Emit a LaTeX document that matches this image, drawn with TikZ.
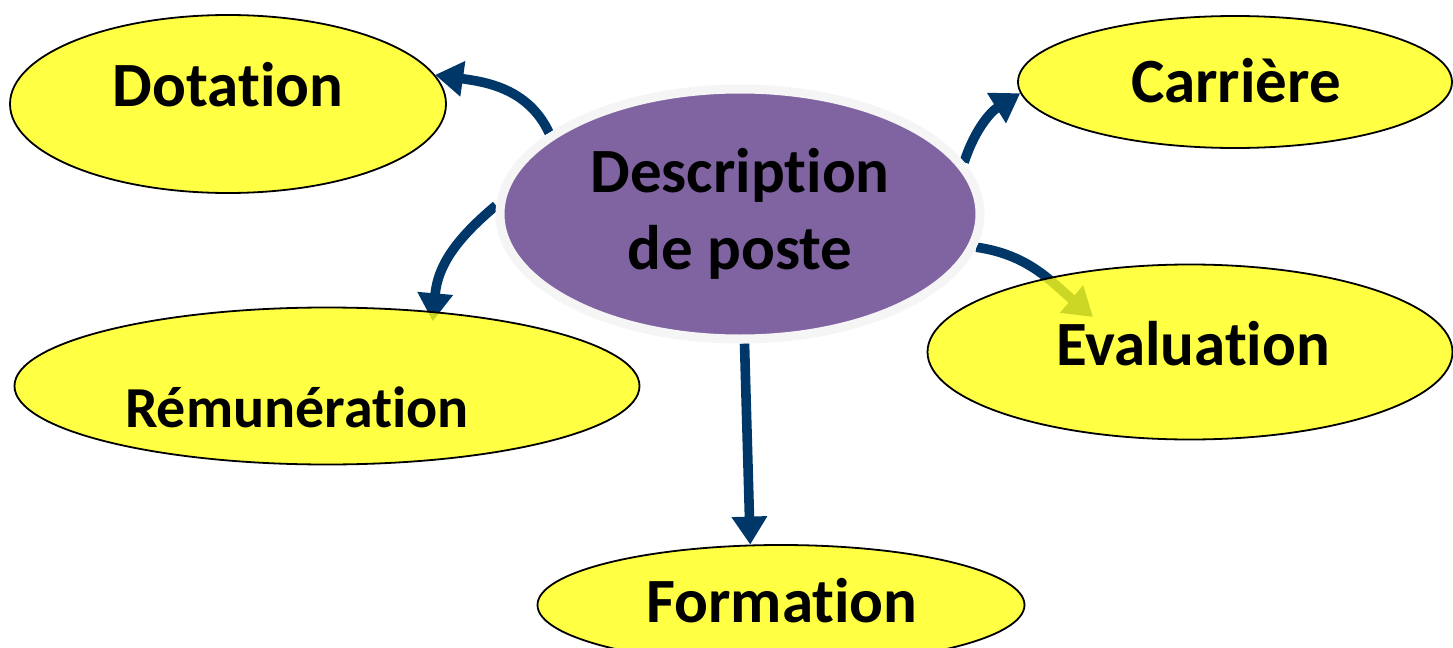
\documentclass[tikz,border=0pt]{standalone}
\usepackage{fontspec}
\setmainfont{Carlito}[Ligatures={NoCommon,NoContextual}]
\usetikzlibrary{arrows.meta,shapes.geometric,shadows,backgrounds}
\definecolor{jaune}{RGB}{255,255,20}
\definecolor{mauve}{RGB}{128,100,162}
\definecolor{marine}{RGB}{0,55,105}

\begin{document}
\begin{tikzpicture}[x=0.5pt, y=-0.5pt,
    bulle/.style={ellipse, draw=black, line width=0.9pt, fill=jaune, fill opacity=0.8, inner sep=0pt},
    mot/.style={font=\fontsize{31.5}{38.5}\selectfont\bfseries, anchor=base},
    fleche/.style={-{Triangle[length=14pt,width=17pt]}, line width=4.8pt, draw=marine}]
    \useasboundingbox (0,0) rectangle (1453,648);

    % Centre
    \node[ellipse, fill=mauve, draw=gray!8, line width=4.5pt, minimum width=240pt, minimum height=125pt,
          drop shadow={shadow xshift=1pt, shadow yshift=-1.5pt, fill=gray!70, opacity=1},
          align=center, font=\fontsize{31.5}{38.5}\selectfont\bfseries] (desc) at (740,214) {Description\\de poste};

    % Bulles
    \node[bulle, minimum width=218pt, minimum height=89pt] (dot) at (228,104) {};
    \node[bulle, minimum width=217pt, minimum height=66pt] (car) at (1235,82) {};
    \node[bulle, minimum width=262.5pt, minimum height=87.5pt] (eva) at (1190,352) {};
    \node[bulle, minimum width=312.5pt, minimum height=78.5pt] (rem) at (327,386) {};
    \node[bulle, minimum width=243.5pt, minimum height=60pt] (for) at (781,605) {};

    \node[mot] (tdot) at (228,106) {Dotation};
    \node[mot] (tcar) at (1236,102) {Carrière};
    \node[mot] (teva) at (1193,365) {Evaluation};
    \node[mot, font=\fontsize{29}{35}\selectfont\bfseries] (trem) at (297,427) {Rémunération};
    \node[mot] (tfor) at (782,622) {Formation};

    \coordinate (evapt) at (1093,317);

    % Fleches
    \begin{scope}[on background layer]
        \draw[fleche] (desc.157) to[out=115, in=-8] (dot.8);
        \draw[fleche] (desc.13) to[out=72, in=212] (car.183);
        \draw[fleche] (desc.-8) to[out=-8, in=140] (evapt);
        \draw[fleche, shorten >=-5pt] (desc.178) to[out=220, in=85] (rem.35);
        \draw[fleche] (desc.-88) -- (for.117);
    \end{scope}
\end{tikzpicture}
\end{document}
